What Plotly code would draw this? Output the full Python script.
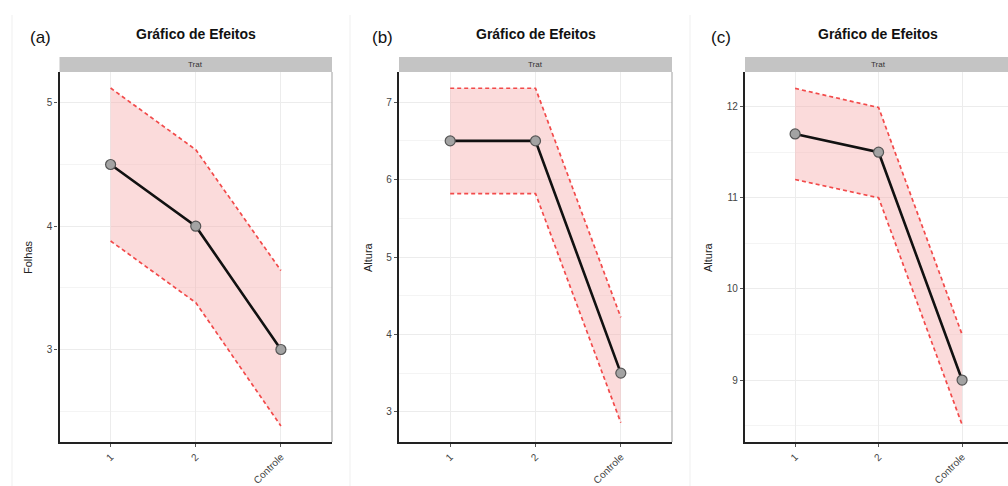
import plotly.graph_objects as go

W, H = 1008, 486

categories = ["1", "2", "Controle"]

# Panel (a) - Folhas
a_mean = [4.5, 4.0, 3.0]
a_upper = [5.12, 4.62, 3.64]
a_lower = [3.88, 3.38, 2.38]

# Panel (b) - Altura
b_mean = [6.5, 6.5, 3.5]
b_upper = [7.18, 7.18, 4.22]
b_lower = [5.82, 5.82, 2.86]

# Panel (c) - Altura
c_mean = [11.7, 11.5, 9.0]
c_upper = [12.2, 11.99, 9.5]
c_lower = [11.2, 11.0, 8.51]

panel_labels = ["(a)", "(b)", "(c)"]
y_titles = ["Folhas", "Altura", "Altura"]
title_text = "Gráfico de Efeitos"
strip_text = "Trat"

panels = [
    dict(mean=a_mean, up=a_upper, lo=a_lower, xd=(59.5, 332), xr=[-0.6, 2.6], yr=[2.25, 5.25],
         ticks=[3, 4, 5], lab_x=40, ytit_x=28, border=True),
    dict(mean=b_mean, up=b_upper, lo=b_lower, xd=(399, 672), xr=[-0.6, 2.6], yr=[2.61, 7.39],
         ticks=[3, 4, 5, 6, 7], lab_x=382, ytit_x=368, border=True),
    dict(mean=c_mean, up=c_upper, lo=c_lower, xd=(745, 1008), xr=[-0.6, 2.55], yr=[8.32, 12.38],
         ticks=[9, 10, 11, 12], lab_x=721, ytit_x=708, border=False),
]

top_px, bot_px = 72, 442
strip_top = 57

def px(x):
    return x / W

def py(y):
    return 1 - y / H

fig = go.Figure()
shapes = []
annotations = []
layout = {}

FONT = "Liberation Sans, Arial, sans-serif"

def ann(text, x, y, size, color="#111111", angle=0):
    return dict(text=text, x=px(x), y=py(y), xref="paper", yref="paper",
                showarrow=False, xanchor="center", yanchor="middle", textangle=angle,
                font=dict(family=FONT, size=size, color=color))

for i, p in enumerate(panels):
    n = "" if i == 0 else str(i + 1)
    xa, ya = "x" + n, "y" + n
    # ribbon fill
    fig.add_trace(go.Scatter(
        x=categories + categories[::-1], y=p["up"] + p["lo"][::-1],
        fill="toself", fillcolor="rgba(245,170,170,0.42)", line=dict(width=0),
        mode="lines", hoverinfo="skip", showlegend=False, xaxis=xa, yaxis=ya))
    for arr in (p["up"], p["lo"]):
        fig.add_trace(go.Scatter(
            x=categories, y=arr, mode="lines",
            line=dict(color="#f24a4a", width=1.7, dash="4px,3px"),
            showlegend=False, xaxis=xa, yaxis=ya))
    fig.add_trace(go.Scatter(
        x=categories, y=p["mean"], mode="lines+markers",
        line=dict(color="#111111", width=2.6),
        marker=dict(size=10, color="#a3a3a3", line=dict(color="#555555", width=1.2)),
        showlegend=False, xaxis=xa, yaxis=ya))

    x0, x1 = p["xd"]
    layout["xaxis" + n] = dict(
        domain=[px(x0), min(px(x1), 1.0)], anchor=ya, type="category",
        categoryorder="array", categoryarray=categories, range=p["xr"],
        showgrid=True, gridcolor="#ececec", gridwidth=1,
        showline=True, linecolor="#222222", linewidth=2.4,
        ticks="outside", ticklen=3, tickcolor="#555555", tickangle=-45,
        tickfont=dict(family=FONT, size=10, color="#444444"), zeroline=False)
    layout["yaxis" + n] = dict(
        domain=[py(bot_px), py(top_px)], anchor=xa, range=p["yr"],
        tickvals=p["ticks"],
        showgrid=True, gridcolor="#ececec", gridwidth=1,
        minor=dict(dtick=0.5, showgrid=True, gridcolor="#f4f4f4", gridwidth=1, tick0=0),
        showline=True, linecolor="#222222", linewidth=2.4,
        ticks="outside", ticklen=3, tickcolor="#555555",
        tickfont=dict(family=FONT, size=10, color="#444444"), zeroline=False)

    # strip
    shapes.append(dict(type="rect", xref="paper", yref="paper",
                       x0=px(x0), x1=min(px(x1), 1.0), y0=py(top_px), y1=py(strip_top),
                       fillcolor="#c4c4c4", line=dict(width=0), layer="above"))
    xc = (x0 + x1) / 2 if i < 2 else 878
    annotations.append(ann(strip_text, xc, (top_px + strip_top) / 2, 8, "#333333"))
    # panel right border
    if p["border"]:
        shapes.append(dict(type="line", xref="paper", yref="paper",
                           x0=px(x1), x1=px(x1), y0=py(bot_px), y1=py(top_px),
                           line=dict(color="#b0b0b0", width=1.2)))
    annotations.append(ann("<b>" + title_text + "</b>", xc, 34, 14))
    annotations.append(ann(panel_labels[i], p["lab_x"], 37, 17))
    annotations.append(ann(y_titles[i], p["ytit_x"], (top_px + bot_px) / 2, 11, "#222222", -90))

# faint composition separators
for sx in (12, 350, 690):
    shapes.append(dict(type="line", xref="paper", yref="paper",
                       x0=px(sx), x1=px(sx), y0=0, y1=py(15),
                       line=dict(color="#efefef", width=1)))

fig.update_layout(
    width=W, height=H, margin=dict(l=0, r=0, t=0, b=0),
    paper_bgcolor="white", plot_bgcolor="white",
    shapes=shapes, annotations=annotations, showlegend=False,
    **layout)

fig.write_html("out.html", config={"displayModeBar": False},
               post_script="document.body.style.margin='0';document.body.style.overflow='hidden';")
